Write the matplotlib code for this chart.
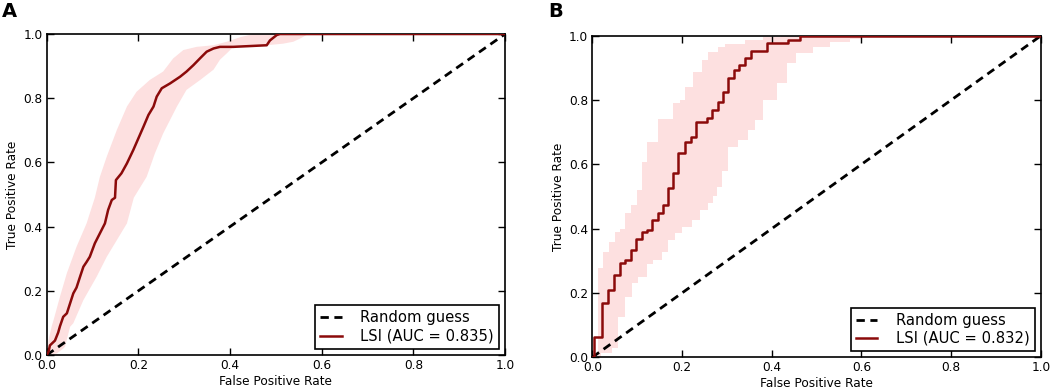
import matplotlib
matplotlib.use("Agg")
import matplotlib.pyplot as plt

plt.rcParams['font.family'] = ['DejaVu Sans']

# ---------------- Panel A data ----------------
a_mean_fpr = [0, 0.004, 0.007, 0.018, 0.025, 0.029, 0.036, 0.044, 0.051, 0.058, 0.065, 0.073,
              0.08, 0.087, 0.094, 0.105, 0.116, 0.127, 0.134, 0.142, 0.149, 0.151, 0.163, 0.175,
              0.189, 0.2, 0.211, 0.222, 0.233, 0.24, 0.251, 0.269, 0.291, 0.305, 0.32, 0.335,
              0.349, 0.364, 0.378, 0.407, 0.451, 0.48, 0.487, 0.502, 0.509, 1.0]
a_mean_tpr = [0, 0.01, 0.03, 0.045, 0.07, 0.09, 0.119, 0.13, 0.161, 0.192, 0.21, 0.245,
              0.275, 0.29, 0.306, 0.348, 0.379, 0.41, 0.452, 0.483, 0.49, 0.545, 0.566, 0.597,
              0.639, 0.675, 0.711, 0.748, 0.774, 0.805, 0.831, 0.846, 0.867, 0.883, 0.903, 0.925,
              0.945, 0.955, 0.96, 0.96, 0.963, 0.965, 0.98, 0.997, 1.0, 1.0]

a_upper_fpr = [0, 0.004, 0.011, 0.015, 0.029, 0.044, 0.065, 0.087, 0.105, 0.116, 0.131, 0.153,
               0.175, 0.196, 0.225, 0.254, 0.276, 0.298, 0.327, 0.364, 0.393, 0.422, 0.451]
a_upper_tpr = [0, 0.047, 0.09, 0.109, 0.182, 0.255, 0.337, 0.41, 0.49, 0.555, 0.618, 0.701,
               0.774, 0.82, 0.857, 0.883, 0.924, 0.95, 0.96, 0.965, 0.976, 0.99, 1.0]

a_lower_fpr = [0, 0.022, 0.036, 0.04, 0.051, 0.058, 0.08, 0.109, 0.131, 0.153, 0.175, 0.19,
               0.218, 0.236, 0.254, 0.269, 0.284, 0.305, 0.335, 0.364, 0.378, 0.393, 0.407,
               0.444, 0.48, 0.516, 0.538, 0.553, 0.567, 0.58]
a_lower_tpr = [0, 0.005, 0.02, 0.026, 0.088, 0.099, 0.171, 0.244, 0.306, 0.358, 0.41, 0.49,
               0.555, 0.628, 0.69, 0.732, 0.774, 0.826, 0.857, 0.889, 0.92, 0.94, 0.96,
               0.965, 0.965, 0.97, 0.976, 0.986, 0.997, 1.0]

# ---------------- Panel B data (step curves) ----------------
b_mean_fpr = [0, 0.003, 0.021, 0.034, 0.049, 0.062, 0.073, 0.086, 0.097, 0.11, 0.121, 0.132,
              0.146, 0.157, 0.168, 0.18, 0.192, 0.207, 0.22, 0.231, 0.255, 0.266, 0.28, 0.292,
              0.303, 0.316, 0.328, 0.34, 0.353, 0.389, 0.437, 0.463, 1.0]
b_mean_tpr = [0, 0.064, 0.17, 0.209, 0.256, 0.292, 0.302, 0.334, 0.367, 0.39, 0.397, 0.427,
              0.448, 0.474, 0.526, 0.572, 0.634, 0.67, 0.686, 0.733, 0.743, 0.769, 0.795, 0.826,
              0.868, 0.894, 0.909, 0.93, 0.953, 0.976, 0.988, 1.0, 1.0]

b_upper_fpr = [0, 0.012, 0.025, 0.037, 0.05, 0.062, 0.074, 0.086, 0.099, 0.11, 0.121, 0.147,
               0.18, 0.196, 0.207, 0.225, 0.244, 0.259, 0.28, 0.296, 0.34, 0.38, 0.42]
b_upper_tpr = [0, 0.277, 0.328, 0.36, 0.39, 0.40, 0.45, 0.474, 0.52, 0.608, 0.67, 0.74,
               0.79, 0.80, 0.84, 0.888, 0.924, 0.95, 0.965, 0.975, 0.986, 0.995, 1.0]

b_lower_fpr = [0, 0.02, 0.043, 0.058, 0.073, 0.088, 0.103, 0.121, 0.136, 0.155, 0.169, 0.185,
               0.199, 0.222, 0.24, 0.259, 0.27, 0.277, 0.289, 0.303, 0.325, 0.348, 0.363,
               0.381, 0.411, 0.433, 0.455, 0.493, 0.53, 0.574, 0.6]
b_lower_tpr = [0, 0.012, 0.028, 0.126, 0.188, 0.23, 0.25, 0.29, 0.303, 0.328, 0.365, 0.385,
               0.406, 0.427, 0.458, 0.479, 0.50, 0.53, 0.58, 0.655, 0.676, 0.707, 0.738,
               0.80, 0.852, 0.914, 0.945, 0.966, 0.981, 0.989, 1.0]

diag = [0, 1]
auc_labels = ['LSI (AUC = 0.835)', 'LSI (AUC = 0.832)']
panel_letters = ['A', 'B']

LINE_COLOR = '#8b0a0a'
BAND_COLOR = '#fde0e0'


def step_vertices(x, y):
    vx, vy = [x[0]], [y[0]]
    for i in range(1, len(x)):
        vx += [x[i], x[i]]
        vy += [y[i - 1], y[i]]
    return vx, vy


fig = plt.figure(figsize=(10.52, 3.91), dpi=100)
axA = fig.add_axes([0.0444, 0.092, 0.4357, 0.821])
axB = fig.add_axes([0.563, 0.0862, 0.4265, 0.8225])

# Panel A band
polyx = list(a_upper_fpr) + list(a_lower_fpr[::-1])
polyy = list(a_upper_tpr) + list(a_lower_tpr[::-1])
axA.fill(polyx, polyy, color=BAND_COLOR, lw=0, zorder=1)

# Panel B band (steps)
ux, uy = step_vertices(b_upper_fpr, b_upper_tpr)
lx, ly = step_vertices(b_lower_fpr, b_lower_tpr)
axB.fill(ux + lx[::-1], uy + ly[::-1], color=BAND_COLOR, lw=0, zorder=1)

for i, ax in enumerate([axA, axB]):
    ax.plot(diag, diag, color='k', lw=2, linestyle=(0, (3, 2)), label='Random guess', zorder=3)
    if i == 0:
        ax.plot(a_mean_fpr, a_mean_tpr, color=LINE_COLOR, lw=1.8, label=auc_labels[i], zorder=4)
    else:
        ax.plot(b_mean_fpr, b_mean_tpr, color=LINE_COLOR, lw=1.8, drawstyle='steps-post',
                label=auc_labels[i], zorder=4)
    ax.set_xlim(0, 1)
    ax.set_ylim(0, 1)
    ax.set_xticks([0, 0.2, 0.4, 0.6, 0.8, 1.0])
    ax.set_yticks([0, 0.2, 0.4, 0.6, 0.8, 1.0])
    ax.set_xticklabels(['0.0', '0.2', '0.4', '0.6', '0.8', '1.0'])
    ax.set_yticklabels(['0.0', '0.2', '0.4', '0.6', '0.8', '1.0'])
    ax.tick_params(direction='in', top=True, right=True, length=5, width=1,
                   labelsize=8.7, pad=3)
    for s in ax.spines.values():
        s.set_linewidth(1.2)
    ax.set_xlabel('False Positive Rate', fontsize=8.7, labelpad=2)
    ax.set_ylabel('True Positive Rate', fontsize=8.7, labelpad=3)
    leg = ax.legend(loc='lower right', fontsize=10.6, fancybox=False, framealpha=1,
                    edgecolor='k', handlelength=1.45, handletextpad=1.25,
                    borderaxespad=0.42, labelspacing=0.22, borderpad=0.35)
    leg.get_frame().set_linewidth(1.2)

fig.text(0.002, 0.995, panel_letters[0], fontsize=14, fontweight='bold', va='top', ha='left')
fig.text(0.521, 0.995, panel_letters[1], fontsize=14, fontweight='bold', va='top', ha='left')

fig.savefig('out.png', dpi=100)
